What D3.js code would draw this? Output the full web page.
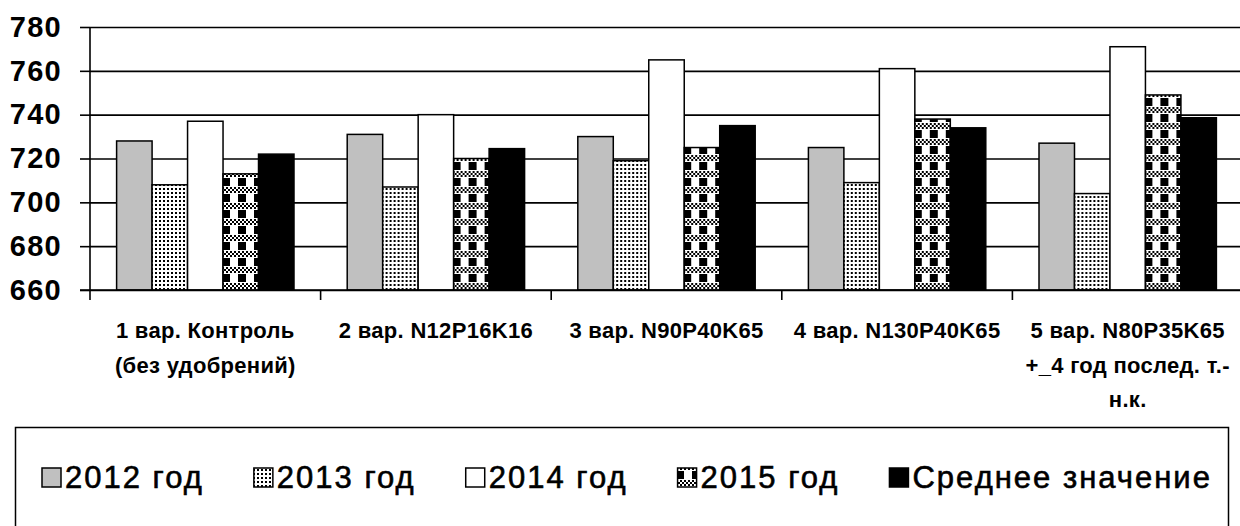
<!DOCTYPE html>
<html>
<head>
<meta charset="utf-8">
<script src="https://cdn.jsdelivr.net/npm/d3@7"></script>
<style>
  body { margin: 0; background: #fff; }
  svg { display: block; font-family: "Liberation Sans", Arial, sans-serif; }
</style>
</head>
<body>
<div class="vis-barchart"></div>
<script>
// data
const categories = ["1 вар.", "2 вар.", "3 вар.", "4 вар.", "5 вар."];
const categoryLabels = [
    ["1 вар. Контроль", "(без удобрений)"],
    ["2 вар. N12P16K16"],
    ["3 вар. N90P40K65"],
    ["4 вар. N130P40K65"],
    ["5 вар. N80P35K65", "+_4 год послед. т.-", "н.к."]
];
const seriesNames = ["2012 год", "2013 год", "2014 год", "2015 год", "Среднее значение"];
const values2012 = [728, 731, 730, 725, 727];
const values2013 = [708, 707, 719, 709, 704];
const values2014 = [737, 740, 765, 761, 771];
const values2015 = [713, 720, 725, 738, 749];
const valuesMean = [722, 724.5, 735, 734, 738.6];
const yTicks = [660, 680, 700, 720, 740, 760, 780];

const fills = ["#c0c0c0", "url(#dots)", "#ffffff", "url(#check)", "#000000"];

const draw = () => {
    const W = 1240, H = 526;
    const margin = {top: 27, right: -3, bottom: 236, left: 90};
    const width = W - margin.left - margin.right;
    const height = H - margin.top - margin.bottom;

    const svg = d3.select('.vis-barchart').append('svg')
        .attr('width', W)
        .attr('height', H);

    // fill patterns
    const defs = svg.append('defs');
    const dots = defs.append('pattern')
        .attr('id', 'dots')
        .attr('patternUnits', 'userSpaceOnUse')
        .attr('width', 4).attr('height', 4);
    dots.append('rect').attr('width', 4).attr('height', 4).attr('fill', '#fff');
    dots.append('rect').attr('x', 1).attr('y', 1).attr('width', 2).attr('height', 2).attr('fill', '#000');

    const check = defs.append('pattern')
        .attr('id', 'check')
        .attr('patternUnits', 'userSpaceOnUse')
        .attr('width', 16).attr('height', 16);
    check.append('rect').attr('width', 16).attr('height', 16).attr('fill', '#fff');
    for (let r = 0; r < 3; r++) {
        for (let c = 0; c < 8; c++) {
            if ((r + c) % 2 === 0) {
                check.append('rect')
                    .attr('x', c * 2).attr('y', r * 2)
                    .attr('width', 2).attr('height', 2)
                    .attr('fill', '#000');
            }
        }
    }
    check.append('rect').attr('x', 4).attr('y', 7).attr('width', 8).attr('height', 8).attr('fill', '#000');

    const g = svg.append('g')
        .attr('transform', 'translate(' + margin.left + ',' + margin.top + ')');

    const x = d3.scaleBand()
        .domain(categories)
        .range([0, width])
        .padding(0);

    const xs = d3.scaleBand()
        .domain(d3.range(seriesNames.length))
        .range([0, x.bandwidth()])
        .paddingInner(0)
        .paddingOuter(0.75);

    const y = d3.scaleLinear()
        .domain([660, 780])
        .range([height, 0]);

    // gridlines
    g.append('g')
        .attr('class', 'grid')
        .call(d3.axisLeft(y).tickValues(yTicks).tickSize(-width).tickFormat(''))
        .call(s => s.select('.domain').remove())
        .selectAll('line')
        .attr('stroke', '#000')
        .attr('stroke-width', 1.6);

    // y axis
    const yAxis = g.append('g')
        .call(d3.axisLeft(y).tickValues(yTicks).tickSize(10).tickPadding(18));
    yAxis.select('.domain').remove();
    yAxis.selectAll('line').attr('stroke', '#000').attr('stroke-width', 1.6);
    yAxis.selectAll('text')
        .attr('fill', '#000')
        .style('font-size', '29px')
        .style('font-weight', 'bold')
        .style('letter-spacing', '1.3px');

    // bars
    const series = [values2012, values2013, values2014, values2015, valuesMean];
    const groups = g.selectAll('.cat')
        .data(categories)
        .enter().append('g')
        .attr('class', 'cat')
        .attr('transform', d => 'translate(' + x(d) + ',0)');

    groups.selectAll('rect')
        .data((d, i) => series.map((s, k) => ({k: k, v: s[i]})))
        .enter().append('rect')
        .attr('x', d => xs(d.k))
        .attr('y', d => y(d.v))
        .attr('width', xs.bandwidth())
        .attr('height', d => height - y(d.v))
        .attr('fill', d => fills[d.k])
        .attr('stroke', '#000')
        .attr('stroke-width', 1.5);

    // axis lines
    g.append('line')
        .attr('x1', 0).attr('x2', 0)
        .attr('y1', 0).attr('y2', height + 10)
        .attr('stroke', '#000').attr('stroke-width', 1.6);
    g.append('line')
        .attr('x1', -10).attr('x2', width)
        .attr('y1', height).attr('y2', height)
        .attr('stroke', '#000').attr('stroke-width', 1.6);
    g.selectAll('.xtick')
        .data(categories.slice(1))
        .enter().append('line')
        .attr('x1', d => x(d)).attr('x2', d => x(d))
        .attr('y1', height).attr('y2', height + 10)
        .attr('stroke', '#000').attr('stroke-width', 1.6);

    // category labels
    const labels = g.selectAll('.xlabel')
        .data(categories)
        .enter().append('text')
        .attr('class', 'xlabel')
        .attr('text-anchor', 'middle')
        .style('font-size', '22px')
        .style('font-weight', 'bold')
        .style('letter-spacing', '0.3px');
    labels.each(function(d, i) {
        d3.select(this).selectAll('tspan')
            .data(categoryLabels[i])
            .enter().append('tspan')
            .attr('x', x(d) + x.bandwidth() / 2)
            .attr('y', (t, j) => height + 48 + j * 34.5)
            .text(t => t);
    });

    // legend
    svg.append('rect')
        .attr('x', 15.5).attr('y', 427.5)
        .attr('width', 1213).attr('height', 102)
        .attr('fill', 'none')
        .attr('stroke', '#000')
        .attr('stroke-width', 1.5);

    let lx = 42;
    seriesNames.forEach((name, k) => {
        svg.append('rect')
            .attr('x', lx).attr('y', 468)
            .attr('width', 19).attr('height', 19)
            .attr('fill', fills[k])
            .attr('stroke', '#000')
            .attr('stroke-width', 1.5);
        const t = svg.append('text')
            .attr('x', lx + 23)
            .attr('y', 488)
            .attr('stroke', '#000')
            .attr('stroke-width', 0.6)
            .style('font-size', '31px')
            .style('letter-spacing', '2px')
            .text(name);
        lx = lx + 23 + t.node().getComputedTextLength() + 50;
    });
};

draw();
</script>
</body>
</html>
